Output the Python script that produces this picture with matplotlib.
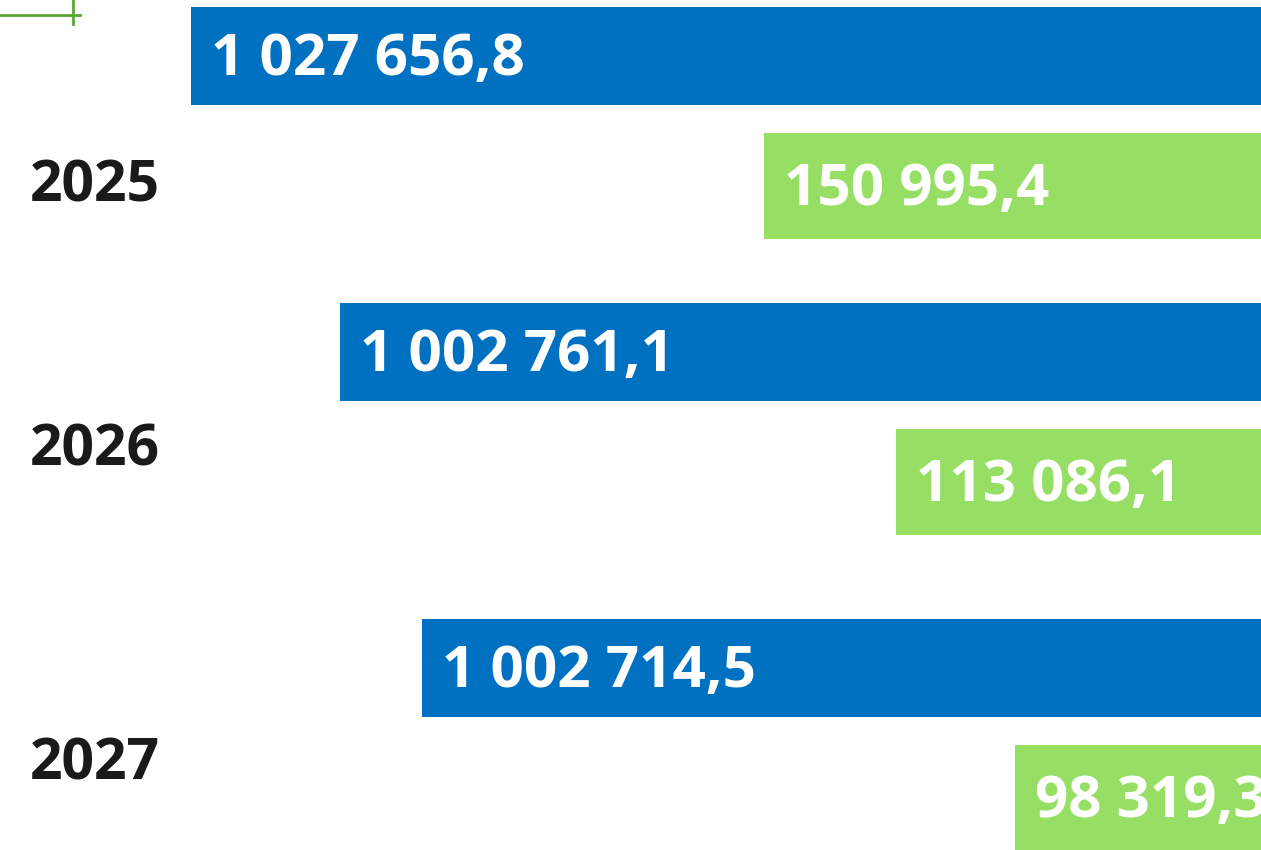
import matplotlib.pyplot as plt

# data
years = ["2025", "2026", "2027"]
blue_values = [1027656.8, 1002761.1, 1002714.5]
green_values = [150995.4, 113086.1, 98319.3]
# visible bar lengths (the picture is a crop, lengths are not proportional)
blue_shown = [1070, 921, 839]
green_shown = [497, 365, 246]


def fmt(v):
    s = f"{v:,.1f}"
    return s.replace(",", " ").replace(".", ",")


W, H = 1261, 850
fig = plt.figure(figsize=(W / 100, H / 100), dpi=100)
ax = fig.add_axes([0, 0, 1, 1])
ax.set_xlim(W, 0)
ax.set_ylim(H, 0)
ax.axis("off")

blue_y = [56, 352, 668]
green_y = [186, 482, 798]
year_y = [179, 443, 758]

ax.barh(blue_y, blue_shown, height=98, color="#0070c0")
ax.barh(green_y, green_shown, height=106, color="#96df64")

font = ["Open Sans", "DejaVu Sans"]
for y, w, v in zip(blue_y, blue_shown, blue_values):
    ax.text(w - 20, y - 3, fmt(v), color="white", fontsize=42, fontweight="bold",
            family=font, ha="left", va="center_baseline")
for y, w, v in zip(green_y, green_shown, green_values):
    ax.text(w - 20, y - 3, fmt(v), color="white", fontsize=42, fontweight="bold",
            family=font, ha="left", va="center_baseline")
for y, t in zip(year_y, years):
    ax.text(W - 95, y, t, color="#1a1a1a", fontsize=41, fontweight="bold",
            family=font, ha="center", va="center_baseline")

# bits of frame left over from the crop
ax.plot([W, W - 80], [15, 15], color="#5aa832", lw=2)
ax.plot([W - 73, W - 73], [0, 24], color="#5aa832", lw=2)

fig.savefig("out.png", dpi=100)
